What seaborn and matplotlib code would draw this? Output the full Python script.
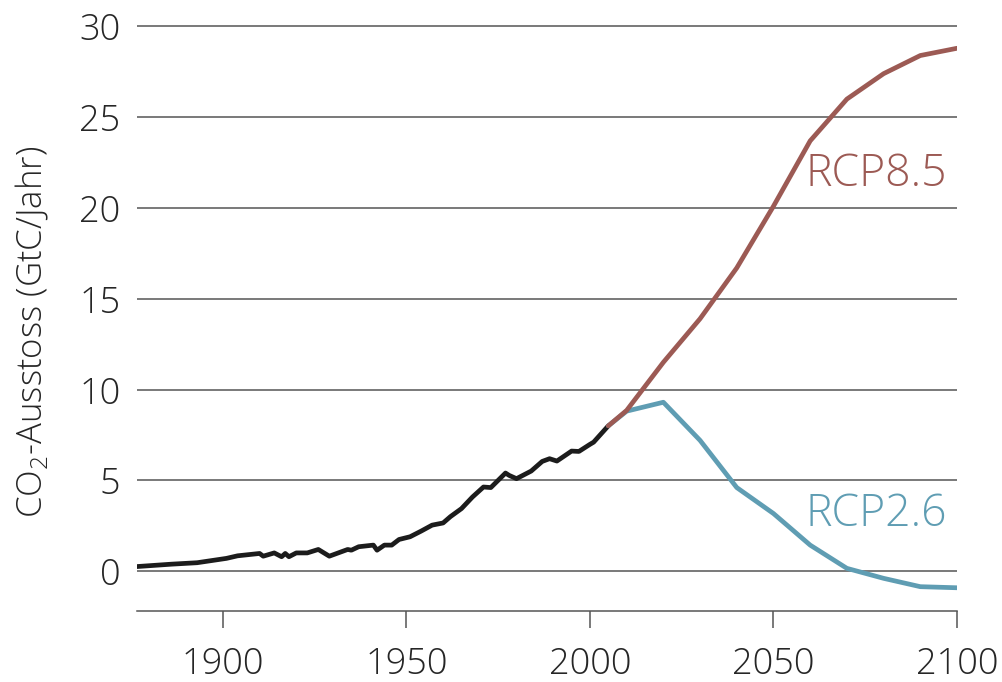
import pandas as pd
import matplotlib.pyplot as plt
import seaborn as sns

# Historical CO2 emissions (GtC/yr)
hist_years = [1876, 1886, 1893, 1901, 1904, 1910, 1911, 1914, 1916, 1917, 1918,
              1920, 1923, 1926, 1929, 1934, 1935, 1937, 1941, 1942, 1944, 1946,
              1948, 1951, 1954, 1957, 1960, 1962, 1965, 1968, 1971, 1973, 1975,
              1977, 1978, 1980, 1984, 1987, 1989, 1991, 1995, 1997, 2000, 2001,
              2005]
hist_values = [0.24, 0.38, 0.46, 0.70, 0.84, 0.97, 0.82, 1.00, 0.79, 0.97, 0.79,
               1.00, 1.00, 1.19, 0.82, 1.19, 1.15, 1.34, 1.43, 1.15, 1.43, 1.43,
               1.74, 1.89, 2.20, 2.53, 2.65, 3.00, 3.44, 4.08, 4.63, 4.60, 5.00,
               5.40, 5.27, 5.09, 5.51, 6.04, 6.19, 6.06, 6.61, 6.59, 6.98, 7.10,
               8.00]

# Scenario projections
rcp_years = [2005, 2010, 2020, 2030, 2040, 2050, 2060, 2070, 2080, 2090, 2100]
rcp85_values = [8.0, 8.85, 11.5, 13.9, 16.7, 20.1, 23.7, 26.0, 27.4, 28.4, 28.8]
rcp26_values = [8.0, 8.81, 9.3, 7.2, 4.6, 3.17, 1.43, 0.15, -0.4, -0.86, -0.92]

x_ticks = [1900, 1950, 2000, 2050, 2100]
y_ticks = [0, 5, 10, 15, 20, 25, 30]

hist = pd.DataFrame({'year': hist_years, 'value': hist_values})
rcp85 = pd.DataFrame({'year': rcp_years, 'value': rcp85_values})
rcp26 = pd.DataFrame({'year': rcp_years, 'value': rcp26_values})

sns.set_theme(style='white')
plt.rcParams['font.family'] = ['Open Sans', 'DejaVu Sans']
plt.rcParams['font.weight'] = 'light'
plt.rcParams['axes.labelweight'] = 'light'
plt.rcParams['mathtext.fontset'] = 'custom'
plt.rcParams['mathtext.rm'] = 'Open Sans:light'

red = '#9c5a54'
blue = '#5f9db3'
grey = '#555555'
txt = '#262626'

fig = plt.figure(figsize=(10.02, 6.82), dpi=100)
ax = fig.add_axes([0.1367, 0.1041, 0.8184, 0.8592])

sns.lineplot(data=hist, x='year', y='value', color='#1c1c1c', lw=3.4, ax=ax, zorder=3)
sns.lineplot(data=rcp26, x='year', y='value', color=blue, lw=3.4, ax=ax, zorder=3)
sns.lineplot(data=rcp85, x='year', y='value', color=red, lw=3.4, ax=ax, zorder=4)

ax.set_xlim(1876.6, 2100)
ax.set_ylim(-2.2, 30.08)
ax.set_xticks(x_ticks)
ax.set_yticks(y_ticks)
ax.yaxis.grid(True, color=grey, lw=1.1)
ax.xaxis.grid(False)

for s in ['left', 'right', 'top']:
    ax.spines[s].set_visible(False)
ax.spines['bottom'].set_color(grey)
ax.spines['bottom'].set_linewidth(1.1)

ax.tick_params(axis='x', direction='out', length=12, width=1.1, color=grey,
               pad=13, labelsize=26, labelcolor=txt, bottom=True)
ax.tick_params(axis='y', length=0, pad=12, labelsize=26, labelcolor=txt)

ax.set_xlabel('')
ax.set_ylabel(r'CO$_\mathrm{2}$-Ausstoss (GtC/Jahr)', fontsize=25, color=txt,
              fontweight='light')
ax.yaxis.set_label_coords(-0.105, 0.477)

ax.text(2058.8, 21.2, 'RCP8.5', color=red, fontsize=32, ha='left', va='baseline')
ax.text(2058.6, 2.47, 'RCP2.6', color=blue, fontsize=32, ha='left', va='baseline')

plt.savefig('out.png', dpi=100)
